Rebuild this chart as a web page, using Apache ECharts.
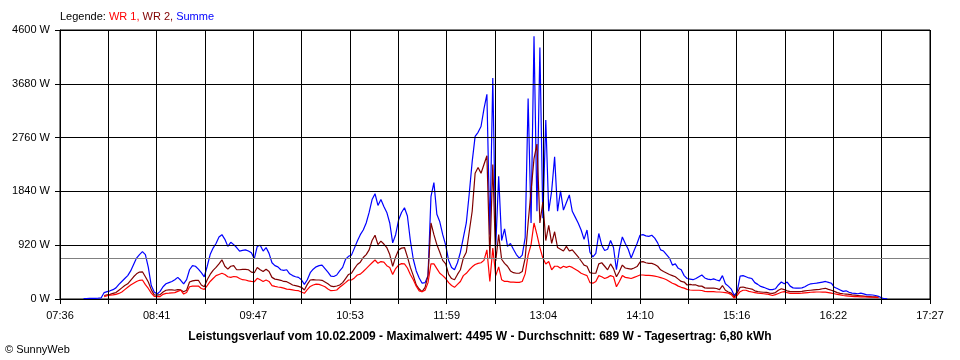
<!DOCTYPE html>
<html><head><meta charset="utf-8">
<script src="https://cdn.jsdelivr.net/npm/echarts@6/dist/echarts.min.js"></script>
<style>html,body{margin:0;padding:0;background:#fff}#c{width:960px;height:360px}</style>
</head><body><div id="c"></div>
<script>
const axisStart = '07:36';
const axisEnd = '17:27';
const tickLabels = ['07:36','08:41','09:47','10:53','11:59','13:04','14:10','15:16','16:22','17:27'];
const yMax = 4600;
const yStep = 920;
const sampleStart = '07:52';
const sampleStepMin = 2;
const average = 689;

const summe = [
5,8,10,10,12,15,20,110,125,140,
160,190,250,300,350,400,480,590,700,760,
810,760,540,230,120,85,130,210,260,280,
300,330,370,320,260,330,500,570,560,510,
450,380,560,760,870,950,1060,1100,1020,900,
970,930,880,820,830,840,820,790,690,900,
920,820,880,780,620,570,550,500,490,500,
430,400,380,370,330,250,330,450,510,550,
570,580,520,460,390,385,410,480,540,680,
730,750,870,990,1100,1180,1300,1480,1700,1800,
1600,1700,1580,1480,1300,960,1100,1350,1480,1560,
1420,1000,680,480,360,270,280,400,1750,1990,
1450,1320,1100,920,660,540,500,620,800,1050,
1300,1800,2350,2780,2850,2950,3250,3500,1100,3780,
900,2100,1000,1200,900,950,850,760,700,750,
1050,3430,1300,4495,1500,4300,1380,3060,1500,1850,
2430,1500,1850,1520,1650,1780,1500,1400,1300,1180,
1020,1180,800,720,780,1120,920,830,850,1000,
880,500,850,1060,950,850,700,830,950,1090,
1100,1080,1070,1090,1040,960,840,820,760,700,
580,600,525,500,400,350,340,330,350,380,
410,360,340,330,345,325,310,400,260,220,
170,60,120,390,400,380,360,350,280,250,
215,200,180,160,160,175,240,290,260,290,
220,190,185,185,190,210,240,260,265,270,
280,290,300,285,270,200,180,155,130,140,
115,100,95,90,100,88,70,70,68,60,
45,20,5,3
];
const wr2 = [
null,null,null,null,null,null,null,60,70,80,
95,110,150,190,230,260,320,380,430,460,
465,380,290,160,70,65,75,120,150,155,
155,150,160,155,125,150,290,310,320,320,
240,210,330,420,490,540,600,670,560,510,
560,570,500,500,505,508,500,460,450,540,
500,470,508,470,370,340,330,320,300,296,
270,240,230,215,200,154,250,325,330,325,
325,320,290,260,220,212,222,240,280,350,
420,440,520,590,630,710,760,840,1000,1090,
930,990,940,880,760,560,720,840,870,880,
720,540,400,240,170,125,200,400,1300,1100,
930,800,660,600,420,350,330,420,500,700,
800,1150,1500,2150,2250,2150,2300,2450,700,2300,
650,1100,680,610,560,480,450,440,440,470,
700,1300,1850,2400,2650,1300,1660,1000,1260,950,
1150,880,850,820,900,820,840,780,720,650,
580,560,450,440,440,600,620,560,500,600,
520,380,470,580,530,520,510,530,555,630,
640,620,610,610,590,560,500,470,445,420,
400,380,340,300,290,240,250,240,240,220,
220,190,185,185,185,180,160,230,150,120,
100,35,100,200,205,190,180,170,140,125,
120,115,112,100,97,110,150,175,160,140,
125,125,125,125,130,140,145,150,155,160,
165,175,183,165,150,130,110,97,90,85,
78,70,65,60,55,50,40,40,38,35,
28,null,null,null
];
const wr1 = [
null,null,null,null,null,null,null,40,55,65,
70,80,95,120,160,200,240,270,300,320,
325,245,180,100,45,40,42,80,97,100,
105,110,130,150,85,110,210,220,220,222,
180,165,230,300,350,400,420,440,420,380,
370,385,380,350,330,325,310,300,295,354,
330,300,325,300,230,215,205,200,185,170,
165,155,145,142,120,97,160,215,240,255,
250,230,210,170,142,145,154,200,240,280,
325,325,360,410,425,470,520,570,620,667,
610,640,630,570,540,420,520,580,605,600,
530,420,330,220,140,125,150,280,600,600,
520,440,400,350,280,230,200,250,300,400,
440,500,550,590,610,620,660,840,300,870,
400,550,330,300,300,290,290,285,285,300,
430,750,930,1300,1100,880,700,600,640,500,
560,560,525,560,540,560,540,510,480,440,
420,400,280,270,300,400,380,350,370,400,
380,210,300,400,370,360,350,370,390,410,
410,405,405,400,390,380,365,350,330,300,
270,250,220,200,185,165,154,150,150,150,
145,130,125,125,125,120,120,115,110,100,
75,15,60,125,150,150,130,120,110,100,
95,90,85,75,60,75,95,115,125,110,
97,97,97,97,100,105,110,115,118,120,
120,118,116,110,100,90,80,70,60,55,
50,45,40,40,38,36,34,33,30,28,
22,null,null,null
];

const titleText = 'Leistungsverlauf vom 10.02.2009 - Maximalwert: 4495 W - Durchschnitt: 689 W - Tagesertrag: 6,80 kWh';
const footerText = '\u00A9 SunnyWeb';

function toMin(s){ const p = s.split(':'); return (+p[0])*60 + (+p[1]); }
const span = toMin(axisEnd) - toMin(axisStart);
const xInterval = span / ((tickLabels.length - 1) * 2);
const offset0 = toMin(sampleStart) - toMin(axisStart);
function pairs(arr){ return arr.map((v, i) => [offset0 + i * sampleStepMin, v]); }

const FONT = 'Liberation Sans';
const chart = echarts.init(document.getElementById('c'), null, {renderer: 'canvas'});
chart.setOption({
  animation: false,
  backgroundColor: '#fff',
  textStyle: {fontFamily: FONT},
  grid: {left: 60, right: 30, top: 30, bottom: 61, show: true, borderColor: '#000', borderWidth: 1, backgroundColor: 'transparent'},
  xAxis: {
    type: 'value', min: 0, max: span, interval: xInterval, z: 5,
    axisLine: {lineStyle: {color: '#000', width: 1}},
    axisTick: {show: true, length: 5, lineStyle: {color: '#000'}},
    splitLine: {show: true, lineStyle: {color: '#000', width: 1}},
    axisLabel: {
      color: '#000', fontSize: 11, fontFamily: FONT, margin: 11, showMinLabel: true, showMaxLabel: true,
      formatter: function(v){ const k = Math.round(v / xInterval); return (k % 2 === 0) ? (tickLabels[k/2] || '') : ''; }
    }
  },
  yAxis: {
    type: 'value', min: 0, max: yMax, interval: yStep, z: 5,
    axisLine: {show: true, lineStyle: {color: '#000', width: 1}},
    axisTick: {show: true, length: 5, lineStyle: {color: '#000'}},
    splitLine: {show: true, lineStyle: {color: '#000', width: 1}},
    axisLabel: {color: '#000', fontSize: 11, fontFamily: FONT, margin: 10, formatter: v => v + ' W'}
  },
  series: [
    {name: 'Summe', type: 'line', data: pairs(summe), showSymbol: false, symbol: 'none', lineStyle: {color: '#0000FF', width: 1.2}, itemStyle: {color: '#0000FF'}, z: 2},
    {name: 'WR 2', type: 'line', data: pairs(wr2), showSymbol: false, symbol: 'none', lineStyle: {color: '#800000', width: 1.2}, itemStyle: {color: '#800000'}, z: 3},
    {name: 'WR 1', type: 'line', data: pairs(wr1), showSymbol: false, symbol: 'none', lineStyle: {color: '#FF0000', width: 1.2}, itemStyle: {color: '#FF0000'}, z: 4},
    {name: 'avg', type: 'line', data: [], z: 6, silent: true,
      markLine: {silent: true, symbol: 'none', label: {show: false}, lineStyle: {color: '#808080', width: 1, type: 'solid'}, data: [{yAxis: average}]}}
  ],
  graphic: [
    {type: 'text', left: 60, top: 11, style: {
      text: '{k|Legende: }{a|WR 1, }{b|WR 2, }{c|Summe}',
      rich: {
        k: {fill: '#000', fontSize: 11, fontFamily: FONT},
        a: {fill: '#FF0000', fontSize: 11, fontFamily: FONT},
        b: {fill: '#800000', fontSize: 11, fontFamily: FONT},
        c: {fill: '#0000FF', fontSize: 11, fontFamily: FONT}
      }}},
    {type: 'text', left: 'center', top: 331, style: {text: titleText, fill: '#000', fontSize: 12, fontWeight: 'bold', fontFamily: FONT}},
    {type: 'text', left: 5, top: 344, style: {text: footerText, fill: '#000', fontSize: 11, fontFamily: FONT}}
  ]
});
</script>
</body></html>
